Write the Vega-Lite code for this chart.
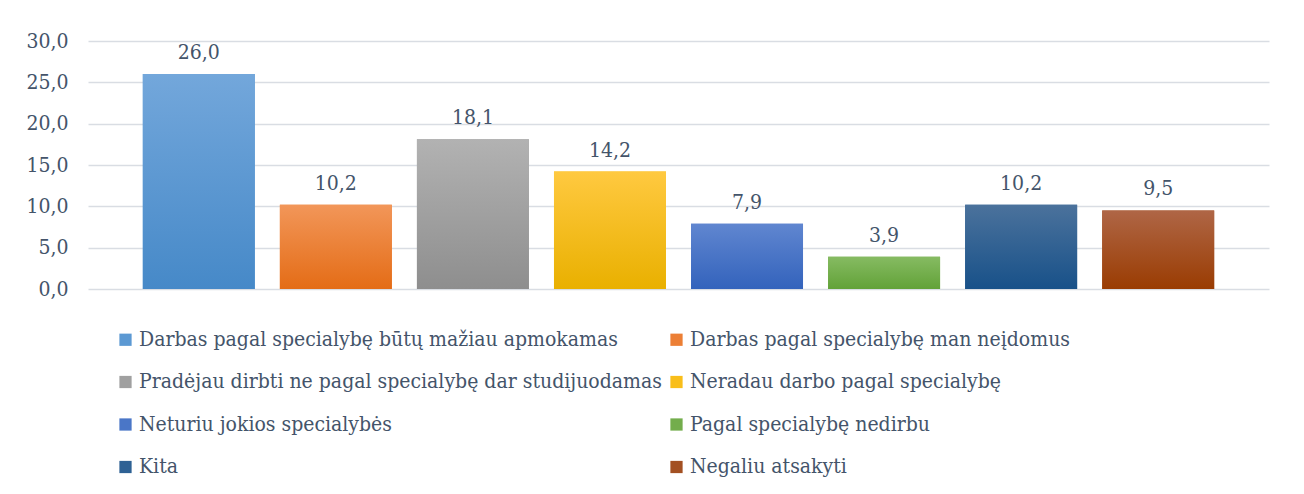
{
  "$schema": "https://vega.github.io/schema/vega-lite/v6.json",
  "width": 1181,
  "height": 248,
  "autosize": {"type": "none"},
  "padding": {"left": 88, "top": 41, "right": 35, "bottom": 205},
  "background": "#ffffff",
  "config": {
    "locale": {"number": {"decimal": ",", "thousands": "\u00a0", "grouping": [3], "currency": ["", " €"]}},
    "view": {"stroke": null}
  },
  "data": {
    "values": [
      {"kategorija": "Darbas pagal specialybę būtų mažiau apmokamas", "proc": 26.0},
      {"kategorija": "Darbas pagal specialybę man neįdomus", "proc": 10.2},
      {"kategorija": "Pradėjau dirbti ne pagal specialybę dar studijuodamas", "proc": 18.1},
      {"kategorija": "Neradau darbo pagal specialybę", "proc": 14.2},
      {"kategorija": "Neturiu jokios specialybės", "proc": 7.9},
      {"kategorija": "Pagal specialybę nedirbu", "proc": 3.9},
      {"kategorija": "Kita", "proc": 10.2},
      {"kategorija": "Negaliu atsakyti", "proc": 9.5}
    ]
  },
  "encoding": {
    "x": {
      "field": "kategorija",
      "type": "nominal",
      "sort": null,
      "axis": null,
      "scale": {"paddingInner": 0.183, "paddingOuter": 0.4}
    },
    "y": {
      "field": "proc",
      "type": "quantitative",
      "scale": {"domain": [0, 30]},
      "axis": {
        "title": null,
        "values": [0, 5, 10, 15, 20, 25, 30],
        "format": ".1f",
        "domain": false,
        "ticks": false,
        "labelPadding": 20,
        "labelFont": "DejaVu Serif Condensed",
        "labelFontSize": 21,
        "labelColor": "#44546A",
        "gridColor": "#D9DDE3",
        "gridWidth": 1.5
      }
    }
  },
  "layer": [
    {
      "mark": {"type": "bar"},
      "encoding": {
        "color": {
          "field": "kategorija",
          "type": "nominal",
          "sort": null,
          "scale": {
            "domain": [
              "Darbas pagal specialybę būtų mažiau apmokamas",
              "Darbas pagal specialybę man neįdomus",
              "Pradėjau dirbti ne pagal specialybę dar studijuodamas",
              "Neradau darbo pagal specialybę",
              "Neturiu jokios specialybės",
              "Pagal specialybę nedirbu",
              "Kita",
              "Negaliu atsakyti"
            ],
            "range": ["#5C99D3", "#EC7F35", "#A0A0A0", "#F9BE1A", "#4A76C7", "#73AD4C", "#2E6194", "#A35022"]
          },
          "legend": {
            "title": null,
            "orient": "none",
            "direction": "horizontal",
            "legendX": 27,
            "legendY": 288,
            "columns": 2,
            "columnPadding": 4,
            "rowPadding": 20.5,
            "padding": 0,
            "symbolType": "square",
            "symbolSize": 150,
            "symbolStrokeWidth": 0,
            "symbolOpacity": 1,
            "labelOffset": 3,
            "labelFont": "DejaVu Serif Condensed",
            "labelFontSize": 21,
            "labelColor": "#44546A",
            "labelLimit": 0
          }
        }
      }
    },
    {
      "transform": [{"filter": "datum.kategorija == 'Darbas pagal specialybę būtų mažiau apmokamas'"}],
      "mark": {"type": "bar", "color": {"gradient": "linear", "x1": 0, "y1": 0, "x2": 0, "y2": 1, "stops": [{"offset": 0, "color": "#73A7DB"}, {"offset": 1, "color": "#4689C8"}]}}
    },
    {
      "transform": [{"filter": "datum.kategorija == 'Darbas pagal specialybę man neįdomus'"}],
      "mark": {"type": "bar", "color": {"gradient": "linear", "x1": 0, "y1": 0, "x2": 0, "y2": 1, "stops": [{"offset": 0, "color": "#F29659"}, {"offset": 1, "color": "#E46C16"}]}}
    },
    {
      "transform": [{"filter": "datum.kategorija == 'Pradėjau dirbti ne pagal specialybę dar studijuodamas'"}],
      "mark": {"type": "bar", "color": {"gradient": "linear", "x1": 0, "y1": 0, "x2": 0, "y2": 1, "stops": [{"offset": 0, "color": "#B2B2B2"}, {"offset": 1, "color": "#8E8E8E"}]}}
    },
    {
      "transform": [{"filter": "datum.kategorija == 'Neradau darbo pagal specialybę'"}],
      "mark": {"type": "bar", "color": {"gradient": "linear", "x1": 0, "y1": 0, "x2": 0, "y2": 1, "stops": [{"offset": 0, "color": "#FFC940"}, {"offset": 1, "color": "#E9B000"}]}}
    },
    {
      "transform": [{"filter": "datum.kategorija == 'Neturiu jokios specialybės'"}],
      "mark": {"type": "bar", "color": {"gradient": "linear", "x1": 0, "y1": 0, "x2": 0, "y2": 1, "stops": [{"offset": 0, "color": "#6086D0"}, {"offset": 1, "color": "#3363BC"}]}}
    },
    {
      "transform": [{"filter": "datum.kategorija == 'Pagal specialybę nedirbu'"}],
      "mark": {"type": "bar", "color": {"gradient": "linear", "x1": 0, "y1": 0, "x2": 0, "y2": 1, "stops": [{"offset": 0, "color": "#86BB62"}, {"offset": 1, "color": "#62A238"}]}}
    },
    {
      "transform": [{"filter": "datum.kategorija == 'Kita'"}],
      "mark": {"type": "bar", "color": {"gradient": "linear", "x1": 0, "y1": 0, "x2": 0, "y2": 1, "stops": [{"offset": 0, "color": "#4B729C"}, {"offset": 1, "color": "#185189"}]}}
    },
    {
      "transform": [{"filter": "datum.kategorija == 'Negaliu atsakyti'"}],
      "mark": {"type": "bar", "color": {"gradient": "linear", "x1": 0, "y1": 0, "x2": 0, "y2": 1, "stops": [{"offset": 0, "color": "#AF6646"}, {"offset": 1, "color": "#9A3C02"}]}}
    },
    {
      "mark": {"type": "text", "baseline": "bottom", "dy": -11, "font": "DejaVu Serif Condensed", "fontSize": 21, "color": "#44546A"},
      "encoding": {
        "text": {"field": "proc", "type": "quantitative", "format": ".1f"}
      }
    }
  ]
}
